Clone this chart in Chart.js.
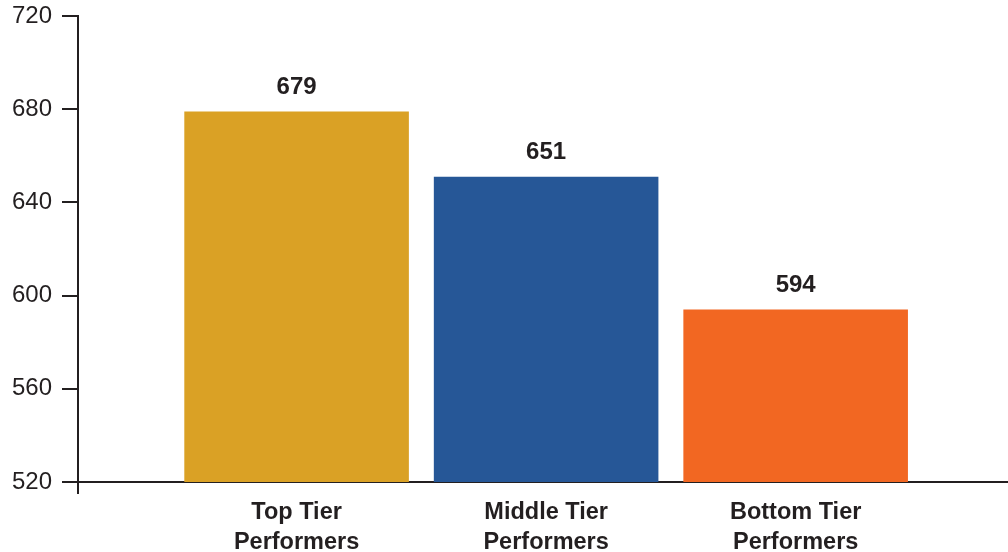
<!DOCTYPE html>
<html>
<head>
<meta charset="utf-8">
<script src="https://cdn.jsdelivr.net/npm/chart.js@4.4.1/dist/chart.umd.min.js"></script>
<style>
  html, body { margin: 0; padding: 0; background: #fff; }
  #wrap { width: 1008px; height: 552px; }
</style>
</head>
<body>
<div id="wrap"><canvas id="chart" width="1008" height="552"></canvas></div>
<script>
// data
const categories = [["Top Tier", "Performers"], ["Middle Tier", "Performers"], ["Bottom Tier", "Performers"]];
const positions = [1, 2, 3];
const scores = [679, 651, 594];
const barColors = ["#DAA125", "#265797", "#F26722"];
const yTicks = [520, 560, 600, 640, 680, 720];

const ink = "#231F20";

// value labels over the bars
const valueLabels = {
  id: "valueLabels",
  afterDatasetsDraw(chart) {
    const ctx = chart.ctx;
    const meta = chart.getDatasetMeta(0);
    ctx.save();
    ctx.font = "bold 24px 'Liberation Sans', Arial, sans-serif";
    ctx.fillStyle = ink;
    ctx.textAlign = "center";
    ctx.textBaseline = "bottom";
    meta.data.forEach((bar, i) => {
      ctx.fillText(String(scores[i]), bar.x, bar.y - 12);
    });
    ctx.restore();
  }
};

// little bit of the y axis sticking out under the x axis
const axisFoot = {
  id: "axisFoot",
  afterDraw(chart) {
    const a = chart.chartArea;
    const ctx = chart.ctx;
    ctx.save();
    ctx.strokeStyle = ink;
    ctx.lineWidth = 2;
    ctx.beginPath();
    ctx.moveTo(a.left, a.bottom);
    ctx.lineTo(a.left, a.bottom + 12);
    ctx.stroke();
    ctx.restore();
  }
};

const dados = positions.map((p, i) => ({ x: p, y: scores[i] }));

new Chart(document.getElementById("chart"), {
  type: "bar",
  data: {
    datasets: [{
      data: dados,
      backgroundColor: barColors,
      borderWidth: 0,
      barPercentage: 0.9,
      categoryPercentage: 1
    }]
  },
  options: {
    responsive: false,
    animation: false,
    layout: { padding: { top: 16, right: 0, left: 0, bottom: 0 } },
    plugins: { legend: { display: false }, tooltip: { enabled: false } },
    scales: {
      x: {
        type: "linear",
        offset: false,
        min: 0.124,
        max: 3.851,
        afterBuildTicks: (scale) => { scale.ticks = positions.map(v => ({ value: v })); },
        afterFit: (scale) => { scale.height = 70; scale.paddingLeft = 0; scale.paddingRight = 0; },
        grid: { display: false, drawTicks: false, offset: false },
        border: { display: true, color: ink, width: 2 },
        ticks: {
          autoSkip: false,
          maxRotation: 0,
          padding: 15,
          color: ink,
          font: { family: "'Liberation Sans', Arial, sans-serif", size: 23.5, weight: "bold", lineHeight: 1.3 },
          callback: (v) => categories[v - 1]
        }
      },
      y: {
        min: 520,
        max: 720,
        afterBuildTicks: (scale) => { scale.ticks = yTicks.map(v => ({ value: v })); },
        afterFit: (scale) => { scale.width = 78; scale.paddingTop = 0; scale.paddingBottom = 0; },
        grid: { drawOnChartArea: false, drawTicks: true, tickLength: 16, color: ink, lineWidth: 2 },
        border: { display: true, color: ink, width: 2 },
        ticks: {
          padding: 10,
          color: ink,
          font: { family: "'Liberation Sans', Arial, sans-serif", size: 24 }
        }
      }
    }
  },
  plugins: [valueLabels, axisFoot]
});
</script>
</body>
</html>
